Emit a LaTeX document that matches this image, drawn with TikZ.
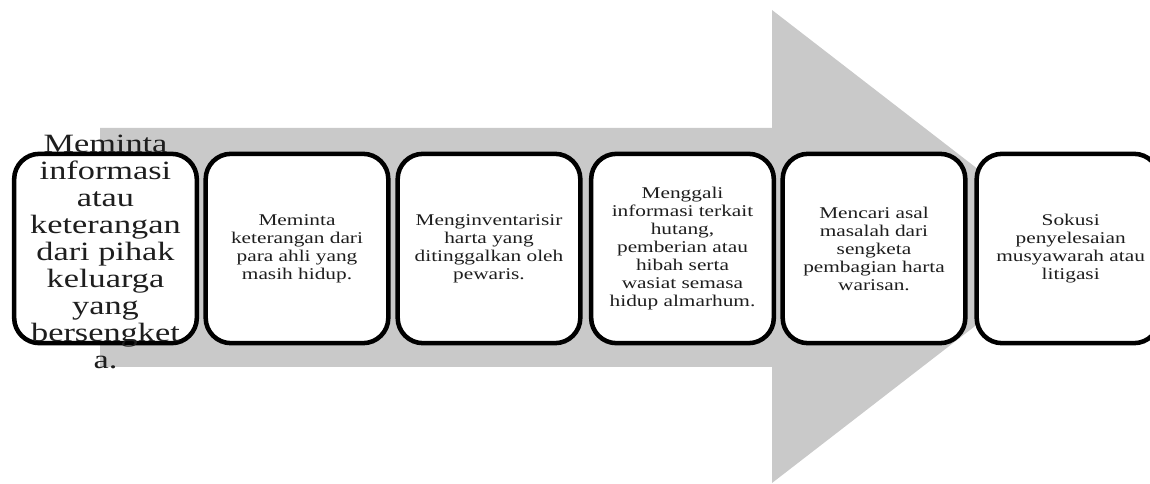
\documentclass[tikz,border=0pt]{standalone}
\usepackage{fontspec}
\newfontfamily\gfont[FakeStretch=1.3]{Liberation Serif}
\definecolor{arrowgray}{RGB}{201,201,201}
\definecolor{txt}{RGB}{30,30,30}
\begin{document}
\begin{tikzpicture}[x=0.75pt,y=-0.75pt,
  stepbox/.style={draw=black, line width=3.4pt, fill=white, rounded corners=19pt,
    minimum width=137pt, minimum height=142pt, inner sep=0pt},
  smalltext/.style={font=\gfont\fontsize{12.3}{13.5}\selectfont, text=txt, align=center, inner sep=0pt},
  bigtext/.style={font=\gfont\fontsize{19.8}{20.25}\selectfont, text=txt, align=center, inner sep=0pt}]
\useasboundingbox (0,0) rectangle (1150,484);
\clip (0,0) rectangle (1150,484);
% big gray arrow
\fill[arrowgray] (100,128) -- (772,128) -- (772,10) -- (1078,246.5) -- (772,483) -- (772,367) -- (100,367) -- cycle;
% boxes
\node[stepbox] (b1) at (105.5,248.5) {};
\node[stepbox] (b2) at (297,248.5) {};
\node[stepbox] (b3) at (489,248.5) {};
\node[stepbox] (b4) at (682.5,248.5) {};
\node[stepbox] (b5) at (874,248.5) {};
\node[stepbox] (b6) at (1068,248.5) {};
% texts
\node[bigtext] (t1) at ([yshift=-2.5pt]b1.center) {Meminta\\informasi\\atau\\keterangan\\dari pihak\\keluarga\\yang\\bersengket\\a.};
\node[smalltext] (t2) at (b2.center) {Meminta\\keterangan dari\\para ahli yang\\masih hidup.};
\node[smalltext] (t3) at (b3.center) {Menginventarisir\\harta yang\\ditinggalkan oleh\\pewaris.};
\node[smalltext] (t4) at (b4.center) {Menggali\\informasi terkait\\hutang,\\pemberian atau\\hibah serta\\wasiat semasa\\hidup almarhum.};
\node[smalltext] (t5) at (b5.center) {Mencari asal\\masalah dari\\sengketa\\pembagian harta\\warisan.};
\node[smalltext] (t6) at ([xshift=2pt]b6.center) {Sokusi\\penyelesaian\\musyawarah atau\\litigasi};
\end{tikzpicture}
\end{document}
